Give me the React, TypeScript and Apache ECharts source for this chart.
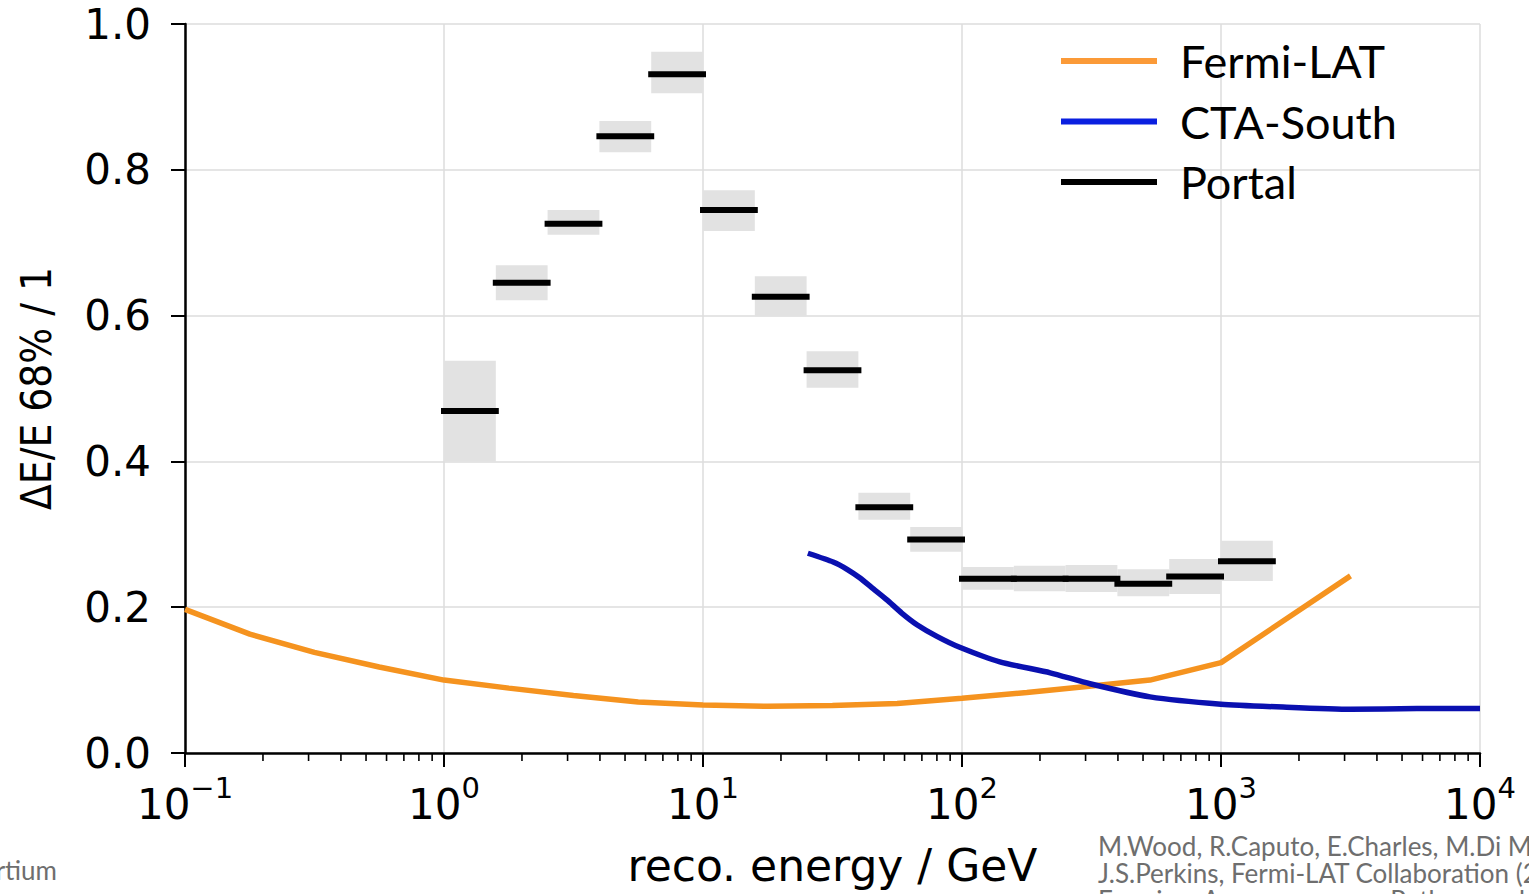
import React, { useEffect, useRef } from "react";
import * as echarts from "echarts";

// Fermi-LAT energy resolution
const fermiE = [0.1, 0.178, 0.316, 0.562, 1, 1.78, 3.16, 5.62, 10, 17.8, 31.6, 56.2, 100, 178, 316, 532, 1000, 3162];
const fermiRes = [0.197, 0.163, 0.138, 0.118, 0.1, 0.089, 0.079, 0.07, 0.066, 0.064, 0.065, 0.068, 0.075, 0.083, 0.092, 0.1, 0.124, 0.243];

// CTA-South energy resolution
const ctaE = [25.4, 31.8, 36, 40.4, 45.5, 51.3, 58.5, 67, 80, 98, 140, 219, 312, 532, 1000, 1735, 3162, 5710, 10000];
const ctaRes = [0.274, 0.262, 0.252, 0.24, 0.225, 0.21, 0.192, 0.176, 0.16, 0.145, 0.125, 0.11, 0.095, 0.077, 0.067, 0.063, 0.06, 0.061, 0.061];

// Portal binned resolution
const portalLow = [1, 1.585, 2.512, 3.981, 6.31, 10, 15.85, 25.12, 39.81, 63.1, 100, 158.5, 251.2, 398.1, 631, 1000];
const portalHigh = [1.585, 2.512, 3.981, 6.31, 10, 15.85, 25.12, 39.81, 63.1, 100, 158.5, 251.2, 398.1, 631, 1000, 1585];
const portalRes = [0.469, 0.645, 0.726, 0.846, 0.931, 0.745, 0.626, 0.525, 0.337, 0.293, 0.239, 0.239, 0.239, 0.232, 0.242, 0.263];
const portalErrLow = [0.4, 0.621, 0.711, 0.824, 0.905, 0.716, 0.599, 0.501, 0.32, 0.276, 0.224, 0.222, 0.221, 0.215, 0.218, 0.236];
const portalErrHigh = [0.538, 0.669, 0.745, 0.867, 0.962, 0.772, 0.654, 0.551, 0.357, 0.31, 0.255, 0.257, 0.258, 0.252, 0.266, 0.291];

// Axis ticks
const xTickValues = [0.1, 1, 10, 100, 1000, 10000];
const xTickExponents = ["\u22121", "0", "1", "2", "3", "4"];
const xMinorTicks = [
  0.2, 0.3, 0.4, 0.5, 0.6, 0.7, 0.8, 0.9,
  2, 3, 4, 5, 6, 7, 8, 9,
  20, 30, 40, 50, 60, 70, 80, 90,
  200, 300, 400, 500, 600, 700, 800, 900,
  2000, 3000, 4000, 5000, 6000, 7000, 8000, 9000,
];

const ORANGE = "#f5931f";
const BLUE = "#0a10b0";
const AXIS_FONT = "'DejaVu Sans', sans-serif";

export default function App() {
  const ref = useRef<HTMLDivElement>(null);

  useEffect(() => {
    if (!ref.current) return;
    const chart = echarts.init(ref.current, undefined, { renderer: "svg" });

    const portalData = portalLow.map((lo, i) => [lo, portalHigh[i], portalRes[i], portalErrLow[i], portalErrHigh[i]]);

    const option: any = {
      animation: false,
      backgroundColor: "#ffffff",
      grid: { left: 185, right: 49, top: 24, bottom: 141, containLabel: false },
      xAxis: {
        type: "log",
        logBase: 10,
        min: 0.1,
        max: 10000,
        splitNumber: 5,
        name: "reco. energy / GeV",
        nameLocation: "middle",
        nameGap: 90,
        nameTextStyle: { fontFamily: AXIS_FONT, fontSize: 44, color: "#000" },
        axisLine: { show: true, onZero: false, lineStyle: { color: "#000", width: 2.5 } },
        axisTick: { show: true, inside: false, length: 14, lineStyle: { color: "#000", width: 2 } },
        splitLine: { show: true, lineStyle: { color: "#dcdcdc", width: 1.5 } },
        axisLabel: {
          margin: 20,
          formatter: (v: number) => {
            const i = xTickValues.findIndex((t) => Math.abs(Math.log10(t) - Math.log10(v)) < 1e-6);
            return i < 0 ? "" : `{b|10}{s|${xTickExponents[i]}}`;
          },
          rich: {
            b: { fontFamily: AXIS_FONT, fontSize: 42, color: "#000", lineHeight: 62, verticalAlign: "middle" },
            s: { fontFamily: AXIS_FONT, fontSize: 29, color: "#000", lineHeight: 30, verticalAlign: "top" },
          },
        },
      },
      yAxis: {
        type: "value",
        min: 0,
        max: 1,
        interval: 0.2,
        name: "\u0394E/E 68% / 1",
        nameLocation: "middle",
        nameRotate: 90,
        nameGap: 128,
        nameTextStyle: { fontFamily: "'DejaVu Sans Condensed', 'DejaVu Sans', sans-serif", fontSize: 42, color: "#000" },
        axisLine: { show: true, lineStyle: { color: "#000", width: 2.5 } },
        axisTick: { show: true, inside: false, length: 14, lineStyle: { color: "#000", width: 2 } },
        splitLine: { show: true, lineStyle: { color: "#dcdcdc", width: 1.5 } },
        axisLabel: {
          margin: 34,
          fontFamily: AXIS_FONT,
          fontSize: 42,
          color: "#000",
          formatter: (v: number) => v.toFixed(1),
        },
      },
      legend: {
        orient: "vertical",
        left: 1056,
        top: 31,
        itemWidth: 96,
        itemHeight: 6,
        itemGap: 10.5,
        textStyle: { fontFamily: "Lato, sans-serif", fontSize: 45, color: "#000", lineHeight: 50, padding: [0, 0, 0, 18] },
        data: [
          { name: "Fermi-LAT", icon: "rect", itemStyle: { color: "#fb9a38" } },
          { name: "CTA-South", icon: "rect", itemStyle: { color: "#0a1fe0" } },
          { name: "Portal", icon: "rect", itemStyle: { color: "#000" } },
        ],
      },
      series: [
        {
          name: "Fermi-LAT",
          type: "line",
          data: fermiE.map((e, i) => [e, fermiRes[i]]),
          showSymbol: false,
          symbol: "none",
          itemStyle: { color: ORANGE },
          lineStyle: { color: ORANGE, width: 5.5 },
          z: 3,
        },
        {
          name: "CTA-South",
          type: "line",
          data: ctaE.map((e, i) => [e, ctaRes[i]]),
          showSymbol: false,
          symbol: "none",
          smooth: 0.2,
          itemStyle: { color: BLUE },
          lineStyle: { color: BLUE, width: 5.5 },
          z: 3,
        },
        {
          name: "Portal",
          type: "custom",
          clip: false,
          itemStyle: { color: "#000" },
          encode: { x: [0, 1], y: [2, 3, 4] },
          data: portalData,
          renderItem: (params: any, api: any) => {
            const lo = api.value(0);
            const hi = api.value(1);
            const v = api.value(2);
            const el = api.value(3);
            const eh = api.value(4);
            const a = api.coord([lo, eh]);
            const b = api.coord([hi, el]);
            const c = api.coord([lo, v]);
            const d = api.coord([hi, v]);
            return {
              type: "group",
              children: [
                {
                  type: "rect",
                  z2: 0,
                  shape: { x: a[0], y: a[1], width: b[0] - a[0], height: b[1] - a[1] },
                  style: { fill: "#e2e2e2" },
                },
                {
                  type: "line",
                  z2: 10,
                  shape: { x1: c[0], y1: c[1], x2: d[0], y2: d[1] },
                  style: { stroke: "#000", lineWidth: 6, lineCap: "square" },
                },
              ],
            };
          },
          z: 4,
        },
        {
          name: "minorTicks",
          type: "custom",
          clip: false,
          silent: true,
          encode: { x: 0, y: 1 },
          data: xMinorTicks.map((t) => [t, 0]),
          renderItem: (params: any, api: any) => {
            const p = api.coord([api.value(0), 0]);
            return {
              type: "line",
              shape: { x1: p[0], y1: p[1], x2: p[0], y2: p[1] + 8 },
              style: { stroke: "#000", lineWidth: 1.6 },
            };
          },
          z: 5,
        },
      ],
      graphic: [
        {
          type: "text",
          left: 1098,
          top: 832,
          style: {
            text: "M.Wood, R.Caputo, E.Charles, M.Di Mauro, J.Magill,\nJ.S.Perkins, Fermi-LAT Collaboration (2017)\nFermipy: An open-source Python package for analysis of Fermi-LAT Data",
            fontFamily: "Lato, sans-serif",
            fontSize: 26,
            lineHeight: 27,
            fill: "#6e6e6e",
          },
        },
        {
          type: "text",
          x: 57,
          y: 856,
          style: {
            text: "CTA Consortium\nInstrument Response",
            align: "right",
            verticalAlign: "top",
            fontFamily: "Lato, sans-serif",
            fontSize: 26,
            lineHeight: 28,
            fill: "#6e6e6e",
          },
        },
      ],
    };

    chart.setOption(option);
    return () => chart.dispose();
  }, []);

  return <div ref={ref} style={{ width: 1529, height: 894, position: "absolute", left: 0, top: 0 }} />;
}
